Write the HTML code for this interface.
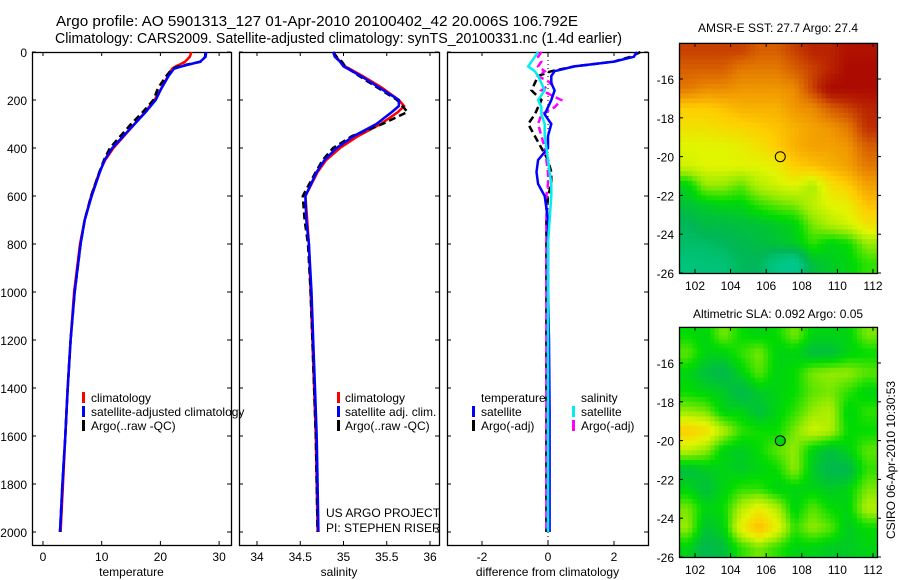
<!DOCTYPE html>
<html><head><meta charset="utf-8"><style>
body{margin:0;background:#fff}
svg{display:block;font-family:"Liberation Sans",sans-serif}
</style></head><body>
<svg id="c" width="900" height="580" viewBox="0 0 900 580" xmlns="http://www.w3.org/2000/svg">
<text x="56" y="26" font-size="15" textLength="522" lengthAdjust="spacingAndGlyphs">Argo profile: AO 5901313_127 01-Apr-2010 20100402_42 20.006S 106.792E</text>
<text x="55" y="43" font-size="15" textLength="567" lengthAdjust="spacingAndGlyphs">Climatology: CARS2009. Satellite-adjusted climatology: synTS_20100331.nc (1.4d earlier)</text>
<g id="g"></g>
</svg>
<script>
// ---- data ----
const depthT = [0,20,40,50,60,70,100,150,200,250,300,350,400,450,500,600,700,800,1000,1200,1400,1600,1800,2000];
const tempClim = [25.3,25.0,24.2,23.5,22.6,22.0,21.3,20.2,19.0,17.4,15.6,13.8,12.0,10.6,9.6,8.2,7.1,6.3,5.3,4.7,4.2,3.8,3.4,3.0];
const tempSat  = [27.8,27.7,26.8,25.2,23.6,22.3,21.4,20.2,19.2,17.5,15.6,13.7,11.8,10.5,9.7,8.3,7.1,6.4,5.4,4.7,4.2,3.8,3.3,2.9];
const tempArgo = [27.7,27.6,27.0,25.0,23.0,22.0,21.0,19.6,18.8,17.0,15.0,13.2,11.4,10.4,9.6,8.2,7.1,6.4,5.4,4.7,4.2,3.8,3.3,2.9];
const depthS = [0,20,40,60,100,150,200,225,250,300,350,400,450,500,600,700,800,1000,1200,1400,1600,1800,2000];
const salClim = [34.88,34.92,34.96,35.02,35.22,35.45,35.64,35.70,35.63,35.43,35.17,34.96,34.80,34.70,34.56,34.58,34.60,34.62,34.64,34.66,34.68,34.69,34.70];
const salSat  = [34.88,34.90,34.96,35.00,35.20,35.42,35.64,35.64,35.56,35.38,35.12,34.92,34.78,34.69,34.56,34.57,34.60,34.63,34.65,34.67,34.69,34.70,34.71];
const salArgo = [34.88,34.92,34.98,35.02,35.18,35.40,35.62,35.68,35.74,35.45,35.10,34.88,34.76,34.68,34.53,34.55,34.59,34.62,34.64,34.66,34.68,34.69,34.70];
const depthD = [0,20,40,60,80,100,130,160,200,230,260,300,350,400,450,500,550,600,700,800,1000,1200,1500,1800,2000];
const dTempSat  = [2.7,2.6,2.0,0.8,0.2,0.1,0.1,0.2,0.1,0.0,-0.1,0.1,0.0,0.0,-0.3,-0.35,-0.3,-0.1,0.0,0.0,0.0,0.03,0.05,0.05,0.05];
const dTempArgo = [2.8,2.5,2.0,0.8,0.1,-0.3,-0.4,-0.5,-0.2,-0.3,-0.4,-0.6,-0.4,-0.2,0.0,0.1,0.1,0.0,-0.05,-0.05,-0.05,-0.05,-0.05,-0.05,-0.05];
const dSalSat   = [-0.3,-0.4,-0.5,-0.6,-0.4,-0.3,-0.2,-0.1,-0.3,-0.2,-0.2,-0.1,-0.1,-0.05,0.0,0.05,0.1,0.1,0.05,0.0,0.0,0.0,0.0,0.0,0.0];
const dSalArgo  = [-0.2,-0.3,-0.2,-0.3,-0.1,-0.3,0.1,-0.2,0.4,0.2,-0.2,-0.3,-0.2,-0.1,-0.05,0.0,0.0,-0.05,-0.05,-0.05,-0.05,-0.05,-0.05,-0.05,-0.05];
const depthTicks = [0,200,400,600,800,1000,1200,1400,1600,1800,2000];
const tempTicks = [0,10,20,30];
const salTicks = [34,34.5,35,35.5,36];
const diffTicks = [-2,0,2];
const lonTicks = [102,104,106,108,110,112];
const latTicks = [-16,-18,-20,-22,-24,-26];
const sstGrid = [
[.85,.85,.85,.85,.8,.8,.85,.9,.9,.95,.95],
[.8,.8,.8,.75,.75,.75,.8,.85,.9,.97,.97],
[.75,.72,.72,.7,.7,.7,.72,.85,.97,.97,.97],
[.6,.6,.62,.65,.65,.65,.7,.72,.8,.85,.9],
[.55,.55,.57,.58,.6,.62,.65,.68,.7,.75,.88],
[.5,.5,.5,.52,.55,.6,.65,.68,.68,.7,.8],
[.48,.5,.5,.5,.5,.52,.6,.62,.65,.68,.75],
[.3,.42,.42,.38,.45,.48,.5,.44,.55,.6,.68],
[.26,.28,.3,.3,.35,.38,.4,.46,.5,.52,.62],
[.2,.24,.24,.25,.26,.28,.3,.4,.45,.48,.55],
[.18,.18,.2,.22,.24,.26,.28,.35,.3,.32,.42],
[.14,.15,.15,.2,.2,.12,.08,.25,.28,.3,.35]];
const slaGrid = [
[.32,.3,.4,.32,.3,.32,.4,.3,.3,.3,.4],
[.38,.3,.3,.35,.4,.3,.3,.25,.25,.3,.32],
[.3,.25,.22,.3,.38,.3,.32,.4,.42,.42,.38],
[.32,.3,.28,.22,.28,.3,.32,.38,.4,.35,.3],
[.42,.4,.3,.3,.25,.3,.35,.42,.45,.3,.35],
[.6,.56,.45,.35,.33,.32,.4,.48,.45,.32,.32],
[.46,.42,.3,.28,.32,.38,.42,.3,.25,.3,.38],
[.25,.28,.3,.28,.3,.32,.42,.28,.22,.22,.35],
[.3,.25,.3,.35,.35,.3,.3,.3,.28,.3,.4],
[.4,.3,.32,.45,.52,.45,.3,.38,.32,.3,.45],
[.42,.26,.3,.52,.64,.52,.35,.42,.38,.28,.32],
[.3,.22,.25,.35,.4,.35,.3,.3,.28,.28,.3]];
const gridLons = [101.1,102.1,103.1,104.1,105.1,106.1,107.1,108.1,109.1,110.1,111.1,112.2];
const gridLats = [-14.14,-15,-16,-17,-18,-19,-20,-21,-22,-23,-24,-25,-26];
const argoLon = [106.79];
const argoLat = [-20.006];

// ---- helpers ----
const NS="http://www.w3.org/2000/svg";
const G=document.getElementById('g');
function el(t,a,p){const e=document.createElementNS(NS,t);for(const k in a)e.setAttribute(k,a[k]);(p||G).appendChild(e);return e;}
const yD = d => 52 + d*0.24;
const xT = v => 43 + v*5.87;
const xS = v => 257 + (v-34)*86.5;
const xDf = v => 548 + v*33;
function line(xs,ds,xf,col,dash,name,w){
  const pts=ds.map((d,i)=>xf(xs[i]).toFixed(1)+','+yD(d).toFixed(1)).join(' ');
  const p=el('polyline',{points:pts,fill:'none',stroke:col,'stroke-width':w||2.5});
  if(dash)p.setAttribute('stroke-dasharray',dash);
  
  
}
function txt(x,y,s,anchor,name,size){
  const t=el('text',{x:x,y:y,'font-size':size||12,'text-anchor':anchor||'start'});
  t.textContent=s;
  
  
  return t;
}
function frame(x0,x1,y0,y1,name){
  const r=el('rect',{x:x0+.5,y:y0+.5,width:x1-x0,height:y1-y0,fill:'none',stroke:'#000','stroke-width':1.3});
  
  
}
function legendBar(x,y,col,name){
  const r=el('rect',{x:x,y:y-10,width:3,height:11,fill:col});
  
  
}
const yTop=52, yBot=545;
const panels=[[32,231,xT,tempTicks,'temperature','temperature-panel'],[239,439,xS,salTicks,'salinity','salinity-panel'],[447,648,xDf,diffTicks,'difference from climatology','difference-panel']];
panels.forEach(([x0,x1,xf,ticks,lab,nm])=>{
  frame(x0,x1,yTop,yBot,nm+'-frame');
  ticks.forEach(t=>{const x=xf(t);
    el('line',{x1:x,x2:x,y1:yTop,y2:yTop+4,stroke:'#000'});
    el('line',{x1:x,x2:x,y1:yBot,y2:yBot-4,stroke:'#000'});
    txt(x,561,String(t),'middle',nm+'-x-tick-label');
  });
  depthTicks.forEach(d=>{const y=yD(d);
    el('line',{x1:x0,x2:x0+4,y1:y,y2:y,stroke:'#000'});
    el('line',{x1:x1,x2:x1-4,y1:y,y2:y,stroke:'#000'});
  });
  txt((x0+x1)/2,576,lab,'middle',nm+'-x-axis-title');
});
depthTicks.forEach(d=>txt(27,yD(d)+5,String(d),'end','depth-tick-label'));
el('line',{x1:xDf(0),x2:xDf(0),y1:yTop,y2:yBot,stroke:'#000','stroke-dasharray':'1,3'});
line(tempClim,depthT,xT,'#f00',null,'temp-climatology-line');
line(tempArgo,depthT,xT,'#000','7,4','temp-argo-line');
line(tempSat,depthT,xT,'#00f',null,'temp-satellite-line');
line(salClim,depthS,xS,'#f00',null,'sal-climatology-line');
line(salArgo,depthS,xS,'#000','7,4','sal-argo-line');
line(salSat,depthS,xS,'#00f',null,'sal-satellite-line');
line(dTempArgo,depthD,xDf,'#000','7,4','diff-temp-argo-line');
line(dSalArgo,depthD,xDf,'#f0f','7,4','diff-sal-argo-line');
line(dTempSat,depthD,xDf,'#00f',null,'diff-temp-satellite-line');
line(dSalSat,depthD,xDf,'#0ee',null,'diff-sal-satellite-line');
[['#f00','climatology'],['#00f','satellite-adjusted climatology'],['#000','Argo(..raw -QC)']].forEach((e,i)=>{legendBar(82,402+i*14,e[0],'temp-legend-marker');txt(91,402+i*14,e[1],'start','temp-legend-entry');});
[['#f00','climatology'],['#00f','satellite adj. clim.'],['#000','Argo(..raw -QC)']].forEach((e,i)=>{legendBar(337,402+i*14,e[0],'sal-legend-marker');txt(345,402+i*14,e[1],'start','sal-legend-entry');});
txt(481,402,'temperature','start','diff-legend-temp-heading');
txt(581,402,'salinity','start','diff-legend-sal-heading');
[['#00f','satellite'],['#000','Argo(-adj)']].forEach((e,i)=>{legendBar(472,416+i*14,e[0],'diff-legend-marker');txt(481,416+i*14,e[1],'start','diff-legend-entry');});
[['#0ee','satellite'],['#f0f','Argo(-adj)']].forEach((e,i)=>{legendBar(572,416+i*14,e[0],'diff-legend-marker');txt(581,416+i*14,e[1],'start','diff-legend-entry');});
txt(326,517,'US ARGO PROJECT','start','project-label');
txt(326,532,'PI: STEPHEN RISER','start','pi-label');
const stops=[[0,[0,205,170]],[.15,[0,195,120]],[.21,[0,182,85]],[.26,[0,195,55]],[.32,[0,220,0]],[.42,[150,235,0]],[.5,[225,245,0]],[.6,[255,205,0]],[.7,[240,150,0]],[.8,[215,95,0]],[.9,[185,35,0]],[1,[165,0,0]]];
function cmap(v){for(let i=1;i<stops.length;i++){if(v<=stops[i][0]){const a=stops[i-1],b=stops[i],f=(v-a[0])/(b[0]-a[0]);return 'rgb('+a[1].map((c,k)=>Math.round(c+(b[1][k]-c)*f)).join(',')+')';}}return 'rgb(165,0,0)';}
function sample(grid,r,c){
  const R=grid.length,C=grid[0].length;
  r=Math.max(0,Math.min(R-1,r));c=Math.max(0,Math.min(C-1,c));
  const r0=Math.floor(r),c0=Math.floor(c),r1=Math.min(R-1,r0+1),c1=Math.min(C-1,c0+1),fr=r-r0,fc=c-c0;
  return (grid[r0][c0]*(1-fc)+grid[r0][c1]*fc)*(1-fr)+(grid[r1][c0]*(1-fc)+grid[r1][c1]*fc)*fr;
}
function drawMap(y0,title,grid,nm,lat16,filled){
  const xL=v=>695+(v-102)*17.8, yL=v=>lat16+(-16-v)*19.4;
  const S=4;
  for(let r=0;r<grid.length;r++)for(let c=0;c<grid[r].length;c++){
    const x=xL(gridLons[c]),x2=xL(gridLons[c+1]),y=yL(gridLats[r]),y2=yL(gridLats[r+1]);
    const w=(x2-x)/S,h=(y2-y)/S;
    for(let i=0;i<S;i++)for(let j=0;j<S;j++){
      const v=sample(grid,r+(i+0.5)/S-0.5,c+(j+0.5)/S-0.5);
      const cell=el('rect',{x:(x+j*w).toFixed(2),y:(y+i*h).toFixed(2),width:(w+0.4).toFixed(2),height:(h+0.4).toFixed(2),fill:cmap(v)});
      
      
    }
  }
  const x0=679,x1=877,yt=yL(gridLats[0]),yb=yL(-26);
  frame(x0,x1,yt,yb,nm+'-frame');
  lonTicks.forEach(t=>{const x=xL(t);el('line',{x1:x,x2:x,y1:yt,y2:yt+4,stroke:'#000'});el('line',{x1:x,x2:x,y1:yb,y2:yb-4,stroke:'#000'});txt(x,yb+17,String(t),'middle',nm+'-lon-label');});
  latTicks.forEach(t=>{const y=yL(t);el('line',{x1:x0,x2:x0+4,y1:y,y2:y,stroke:'#000'});el('line',{x1:x1,x2:x1+4,y1:y,y2:y,stroke:'#000'});txt(674,y+5,String(t),'end',nm+'-lat-label');});
  txt(778,y0,title,'middle',nm+'-title');
  const m=el('circle',{cx:xL(argoLon[0]),cy:yL(argoLat[0]),r:5,fill:filled?cmap(.3):'none',stroke:'#000','stroke-width':1});
  
  
}
drawMap(32,'AMSR-E SST: 27.7 Argo: 27.4',sstGrid,'sst-map',79,false);
drawMap(318,'Altimetric SLA: 0.092 Argo: 0.05',slaGrid,'sla-map',363,true);
const side=txt(0,0,'CSIRO 06-Apr-2010 10:30:53','middle','timestamp-label');
side.setAttribute('transform','translate(895,460) rotate(-90)');
</script>
</body></html>
